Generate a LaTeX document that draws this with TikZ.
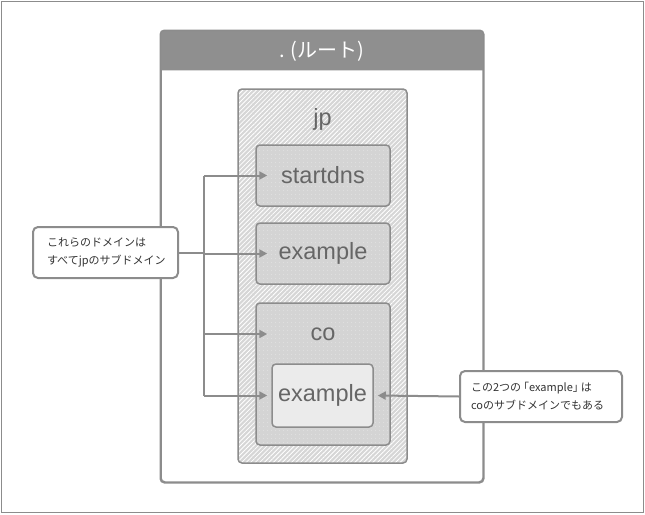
\documentclass[tikz,border=0pt]{standalone}
\usepackage{fontspec}
\setmainfont{Liberation Sans}
\newfontfamily\jfont{Noto Sans CJK JP}
\usetikzlibrary{patterns.meta,arrows.meta}
\definecolor{lineg}{HTML}{8C8C8C}
\definecolor{hdrg}{HTML}{8F8F8F}
\definecolor{hatchg}{HTML}{D6D6D6}
\definecolor{boxg}{HTML}{D4D4D4}
\definecolor{dotg}{HTML}{E8E8E8}
\definecolor{innerg}{HTML}{EBEBEB}
\definecolor{txtg}{HTML}{666666}
\definecolor{calltxt}{HTML}{333333}
\tikzset{
  every node/.style={inner sep=0pt},
  frameline/.style={draw=lineg, line width=1.5pt},
  rootbox/.style={draw=lineg, line width=1.5pt, rounded corners=4pt, fill=white},
  hatchbox/.style={draw=lineg, line width=1.5pt, rounded corners=4pt,
     preaction={fill=hatchg},
     pattern={Lines[angle=45,distance=3.2pt,line width=0.8pt]}, pattern color=white},
  dotbox/.style={draw=lineg, line width=1.5pt, rounded corners=4pt,
     preaction={fill=boxg},
     pattern={Dots[distance=4pt,radius=0.55pt]}, pattern color=dotg,
     text=txtg, font=\fontsize{23.5}{27}\selectfont},
  innerbox/.style={draw=lineg, line width=1.5pt, rounded corners=4pt, fill=innerg,
     text=txtg, font=\fontsize{23.5}{27}\selectfont},
  lbl/.style={text=txtg, font=\fontsize{23.5}{27}\selectfont},
  callout/.style={draw=lineg, line width=2pt, rounded corners=5pt, fill=white,
     text=calltxt, font=\jfont\fontsize{11}{18}\selectfont, align=left,
     minimum height=51pt},
  conn/.style={draw=lineg, line width=2pt},
  arr/.style={draw=lineg, line width=2pt, -{Triangle[length=8pt,width=8pt]}},
}
\begin{document}
\begin{tikzpicture}[x=1pt,y=-1pt]
\useasboundingbox (0,0) rectangle (645,514);
\draw[frameline] (1.5,1.5) rectangle (643.5,512.5);

% root
\node[rootbox, minimum width=322pt, minimum height=451pt] (root) at (322,256.5) {};
\fill[hdrg] ([yshift=-40pt]root.north west) [rounded corners=4pt] -- (root.north west)
   -- (root.north east) [sharp corners] -- ([yshift=-40pt]root.north east) -- cycle;
\draw[draw=lineg, line width=1.5pt, rounded corners=4pt] (root.south west) rectangle (root.north east);
\node[text=white, font=\jfont\fontsize{20}{24}\selectfont] (title) at (322,51) {. (ルート)};

% jp
\node[hatchbox, minimum width=169pt, minimum height=374pt] (jp) at (322.5,276) {};
\node[lbl] (jplbl) at (322.5,119) {jp};

\node[dotbox, minimum width=134pt, minimum height=61pt] (sd) at (323,175.5) {startdns};
\node[dotbox, minimum width=134pt, minimum height=61pt] (ex1) at (323,253.5) {example};
\node[dotbox, minimum width=134pt, minimum height=142pt] (co) at (323,374) {};
\node[lbl] (colbl) at (323,334) {co};
\node[innerbox, minimum width=101pt, minimum height=63pt] (ex2) at (322.5,395.5) {example};

% callouts
\node[callout, minimum width=145pt, text width=117pt, inner xsep=14pt] (lc) at (105.5,252.5)
  {これらのドメインは\\すべてjpのサブドメイン};
\node[callout, minimum width=162pt, text width=140pt, inner xsep=11pt] (rc) at (541,396.5)
  {この2つの\hspace{2.5pt}｢example｣\hspace{2.5pt}は\\coのサブドメインでもある};

% connectors
\coordinate (vtop) at (204,175.5);
\coordinate (vbot) at (vtop |- ex2);
\coordinate (tipx) at ([xshift=12pt]sd.west);
\draw[conn] (lc.east) -- (lc.east -| vtop);
\draw[conn] (vtop) -- (vbot);
\draw[arr] (vtop) -- (tipx);
\draw[arr] (vtop |- ex1) -- (tipx |- ex1);
\draw[arr] (vtop |- colbl) -- (tipx |- colbl);
\draw[arr] (vbot) -- ([xshift=-4pt]ex2.west);
\draw[arr] (rc.west) -- ([xshift=4pt]ex2.east);
\end{tikzpicture}
\end{document}
